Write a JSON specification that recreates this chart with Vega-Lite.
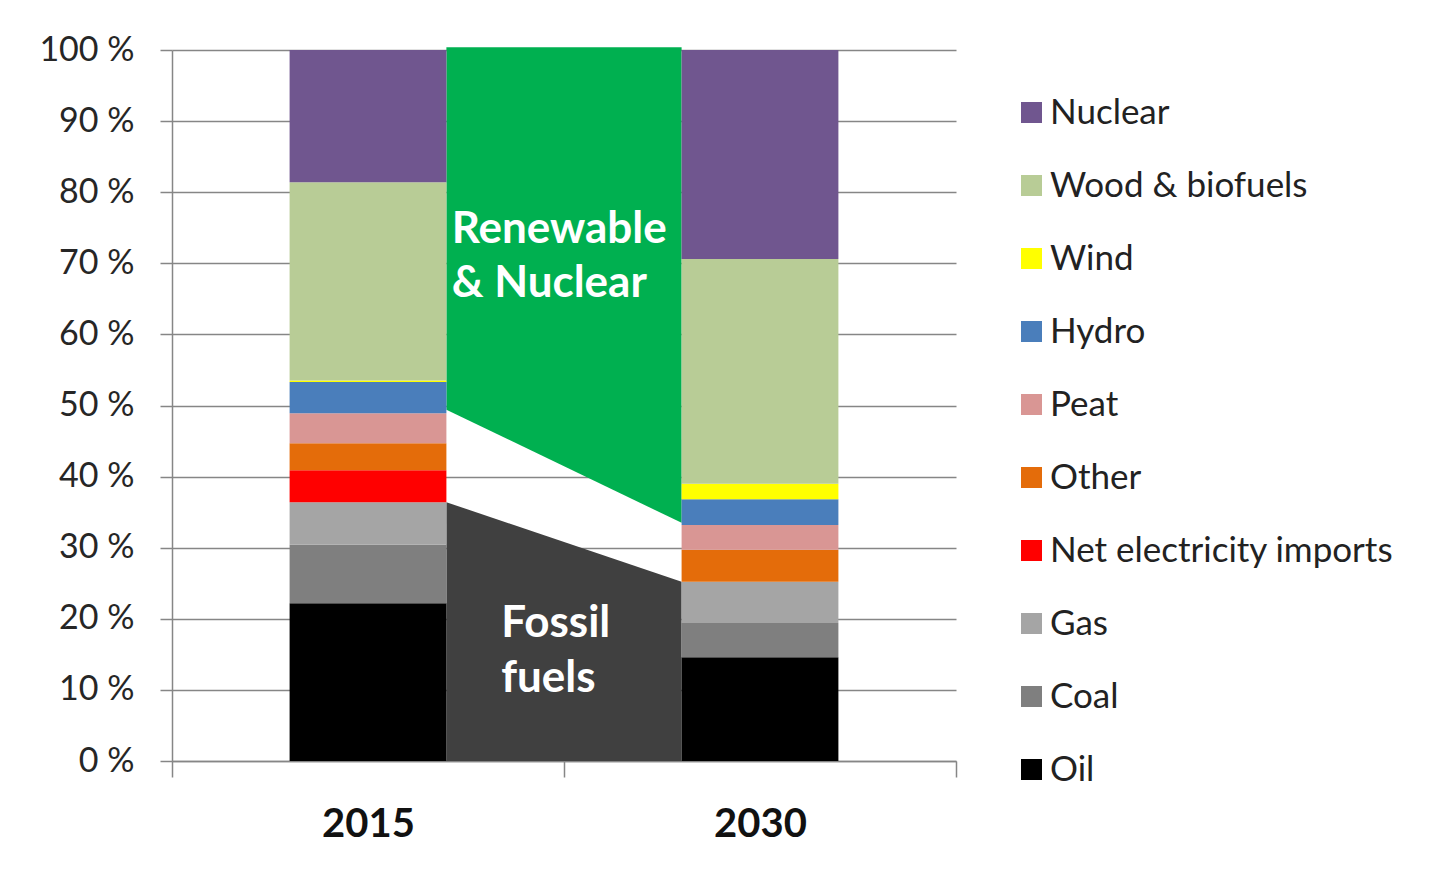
{
  "$schema": "https://vega.github.io/schema/vega-lite/v6.json",
  "width": 784,
  "height": 711,
  "autosize": {"type": "none"},
  "padding": {"left": 172, "top": 50, "right": 490, "bottom": 113},
  "background": "#ffffff",
  "config": {
    "view": {"stroke": null},
    "font": "Lato",
    "axis": {
      "domainColor": "#868686",
      "domainWidth": 1.5,
      "tickColor": "#868686",
      "tickWidth": 1.5,
      "gridColor": "#868686",
      "gridWidth": 1.5,
      "labelFont": "Lato",
      "labelColor": "#262626",
      "title": null
    }
  },
  "datasets": {
    "shares": [
      {"year": 2015, "source": "Oil", "k": 1, "share": 22.2},
      {"year": 2015, "source": "Coal", "k": 2, "share": 8.2},
      {"year": 2015, "source": "Gas", "k": 3, "share": 6.0},
      {"year": 2015, "source": "Net electricity imports", "k": 4, "share": 4.5},
      {"year": 2015, "source": "Other", "k": 5, "share": 3.8},
      {"year": 2015, "source": "Peat", "k": 6, "share": 4.2},
      {"year": 2015, "source": "Hydro", "k": 7, "share": 4.4},
      {"year": 2015, "source": "Wind", "k": 8, "share": 0.2},
      {"year": 2015, "source": "Wood & biofuels", "k": 9, "share": 27.9},
      {"year": 2015, "source": "Nuclear", "k": 10, "share": 18.6},
      {"year": 2030, "source": "Oil", "k": 1, "share": 14.6},
      {"year": 2030, "source": "Coal", "k": 2, "share": 4.8},
      {"year": 2030, "source": "Gas", "k": 3, "share": 5.8},
      {"year": 2030, "source": "Net electricity imports", "k": 4, "share": 0},
      {"year": 2030, "source": "Other", "k": 5, "share": 4.5},
      {"year": 2030, "source": "Peat", "k": 6, "share": 3.5},
      {"year": 2030, "source": "Hydro", "k": 7, "share": 3.6},
      {"year": 2030, "source": "Wind", "k": 8, "share": 2.2},
      {"year": 2030, "source": "Wood & biofuels", "k": 9, "share": 31.6},
      {"year": 2030, "source": "Nuclear", "k": 10, "share": 29.4}
    ],
    "bands": [
      {"band": "renewable", "year": 2018, "lo": 49.4, "hi": 100.4},
      {"band": "renewable", "year": 2027, "lo": 33.5, "hi": 100.4},
      {"band": "fossil", "year": 2018, "lo": 0, "hi": 36.4},
      {"band": "fossil", "year": 2027, "lo": 0, "hi": 25.2}
    ],
    "notes": [
      {"year": 2018.2, "pct": 72.85, "text": "Renewable"},
      {"year": 2018.2, "pct": 65.26, "text": "& Nuclear"},
      {"year": 2020.1, "pct": 17.44, "text": "Fossil"},
      {"year": 2020.1, "pct": 9.7, "text": "fuels"}
    ]
  },
  "layer": [
    {
      "data": {"name": "bands"},
      "transform": [{"filter": "datum.band == 'renewable'"}],
      "mark": {"type": "area", "color": "#00b050", "opacity": 1},
      "encoding": {
        "x": {"field": "year", "type": "quantitative",
              "scale": {"domain": [2007.5, 2037.5], "nice": false, "zero": false, "padding": 0},
              "axis": {
                "values": [2007.5, 2015, 2022.5, 2030, 2037.5],
                "labelExpr": "datum.value == 2015 ? '2015' : datum.value == 2030 ? '2030' : ''",
                "labelFontSize": 40,
                "labelFontWeight": "bold",
                "labelColor": "#111111",
                "tickSize": 16,
                "labelPadding": 27,
                "tickOpacity": {"condition": {"test": "datum.value == 2015 || datum.value == 2030", "value": 0}, "value": 1},
                "grid": false
              }},
        "y": {"field": "lo", "type": "quantitative",
              "scale": {"domain": [0, 100], "nice": false},
              "axis": {
                "values": [0, 10, 20, 30, 40, 50, 60, 70, 80, 90, 100],
                "labelExpr": "datum.value + ' %'",
                "labelFontSize": 34,
                "tickSize": 12,
                "labelPadding": 26,
                "grid": true
              }},
        "y2": {"field": "hi"}
      }
    },
    {
      "data": {"name": "bands"},
      "transform": [{"filter": "datum.band == 'fossil'"}],
      "mark": {"type": "area", "color": "#404040", "opacity": 1},
      "encoding": {
        "x": {"field": "year", "type": "quantitative"},
        "y": {"field": "lo", "type": "quantitative"},
        "y2": {"field": "hi"}
      }
    },
    {
      "data": {"name": "shares"},
      "mark": {"type": "bar", "width": 156.8},
      "encoding": {
        "x": {"field": "year", "type": "quantitative"},
        "y": {"field": "share", "type": "quantitative", "stack": "zero"},
        "order": {"field": "k", "type": "quantitative", "sort": "ascending"},
        "color": {
          "field": "source", "type": "nominal",
          "scale": {
            "domain": ["Nuclear", "Wood & biofuels", "Wind", "Hydro", "Peat", "Other", "Net electricity imports", "Gas", "Coal", "Oil"],
            "range": ["#70568f", "#b8cc96", "#ffff00", "#4a7ebb", "#d99694", "#e46c0a", "#ff0000", "#a5a5a5", "#7f7f7f", "#000000"]
          },
          "legend": {
            "title": null,
            "orient": "none",
            "legendX": 842,
            "legendY": 45,
            "direction": "vertical",
            "padding": 0,
            "symbolType": "square",
            "symbolSize": 441,
            "symbolStrokeWidth": 0,
            "symbolOpacity": 1,
            "labelFont": "Lato",
            "labelFontSize": 35,
            "labelColor": "#222222",
            "labelOffset": 1,
            "labelLimit": 500,
            "rowPadding": 37
          }
        }
      }
    },
    {
      "data": {"name": "notes"},
      "mark": {"type": "text", "align": "left", "baseline": "alphabetic", "color": "#ffffff", "fontSize": 44, "fontWeight": "bold", "font": "Lato"},
      "encoding": {
        "x": {"field": "year", "type": "quantitative"},
        "y": {"field": "pct", "type": "quantitative"},
        "text": {"field": "text"}
      }
    }
  ]
}
